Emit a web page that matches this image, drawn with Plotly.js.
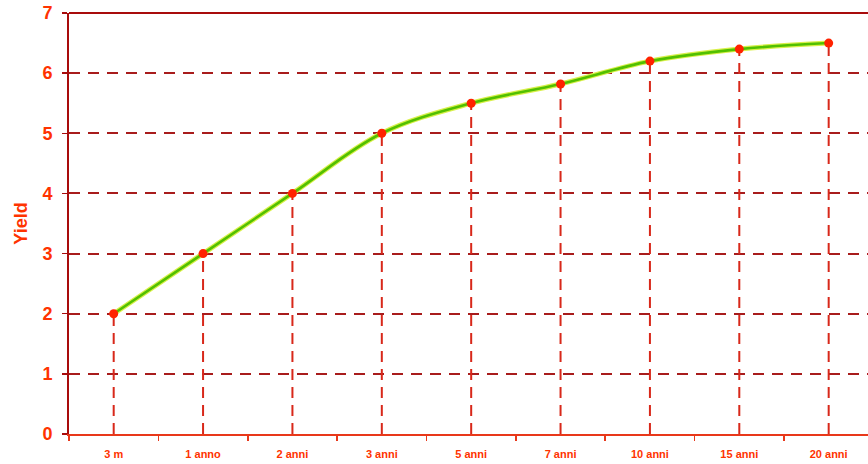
<!DOCTYPE html>
<html>
<head>
<meta charset="utf-8">
<script src="https://cdn.plot.ly/plotly-3.0.1.min.js"></script>
<style>
  html, body { margin: 0; padding: 0; background: #ffffff; }
  #chart { width: 868px; height: 464px; }
</style>
</head>
<body>
<div id="chart"></div>
<script>
// Yield curve by maturity
const maturities = ['3 m', '1 anno', '2 anni', '3 anni', '5 anni', '7 anni', '10 anni', '15 anni', '20 anni'];
const yields = [2.0, 3.0, 4.0, 5.0, 5.5, 5.82, 6.2, 6.4, 6.5];
const yTicks = [0, 1, 2, 3, 4, 5, 6, 7];

// dashed drop lines from each point down to the axis
const dropX = [];
const dropY = [];
maturities.forEach((m, i) => {
  dropX.push(m, m, null);
  dropY.push(0, yields[i], null);
});

const traces = [
  {
    x: dropX, y: dropY, mode: 'lines', hoverinfo: 'skip',
    line: { color: '#d8281a', width: 2, dash: '11px,7px' }
  },
  {
    x: maturities, y: yields, mode: 'lines', hoverinfo: 'skip',
    line: { color: '#d9f04a', width: 5, shape: 'spline', smoothing: 1 }
  },
  {
    x: maturities, y: yields, mode: 'lines+markers',
    line: { color: '#52c000', width: 2.6, shape: 'spline', smoothing: 1 },
    marker: { color: '#ff2200', size: 9 }
  }
];

const layout = {
  width: 868, height: 464,
  margin: { l: 69, r: 0, t: 13, b: 30 },
  paper_bgcolor: '#ffffff', plot_bgcolor: '#ffffff',
  showlegend: false,
  font: { family: 'Liberation Sans, Arial, sans-serif', color: '#ff3300' },
  xaxis: {
    type: 'category',
    range: [-0.5, 8.44],
    showgrid: false, zeroline: false,
    showline: true, linecolor: '#e8381a', linewidth: 2,
    ticks: 'outside', tickson: 'boundaries', ticklen: 5, tickwidth: 1.5, tickcolor: '#e8381a',
    ticklabelstandoff: 9,
    tickfont: { size: 11, color: '#ff3300', family: 'Liberation Sans, Arial, sans-serif', weight: 'bold' },
    fixedrange: true
  },
  yaxis: {
    range: [0, 7],
    tickvals: yTicks,
    showgrid: true, gridcolor: '#a81c1c', gridwidth: 2, griddash: '11px,8px',
    zeroline: false,
    showline: true, linecolor: '#a80c0c', linewidth: 2,
    ticks: 'outside', ticklen: 5, tickwidth: 1.5, tickcolor: '#a80c0c',
    ticklabelstandoff: 6,
    tickfont: { size: 18, color: '#ff3300', family: 'Liberation Sans, Arial, sans-serif', weight: 'bold' },
    title: {
      text: 'Yield', standoff: 10,
      font: { size: 18, color: '#ff3300', family: 'Liberation Sans, Arial, sans-serif', weight: 'bold' }
    },
    fixedrange: true
  },
  shapes: [
    {
      type: 'line', xref: 'paper', yref: 'paper', x0: 0, x1: 1, y0: 1, y1: 1,
      line: { color: '#a80c0c', width: 2 }
    }
  ]
};

Plotly.newPlot('chart', traces, layout, { displayModeBar: false, staticPlot: true });
</script>
</body>
</html>
